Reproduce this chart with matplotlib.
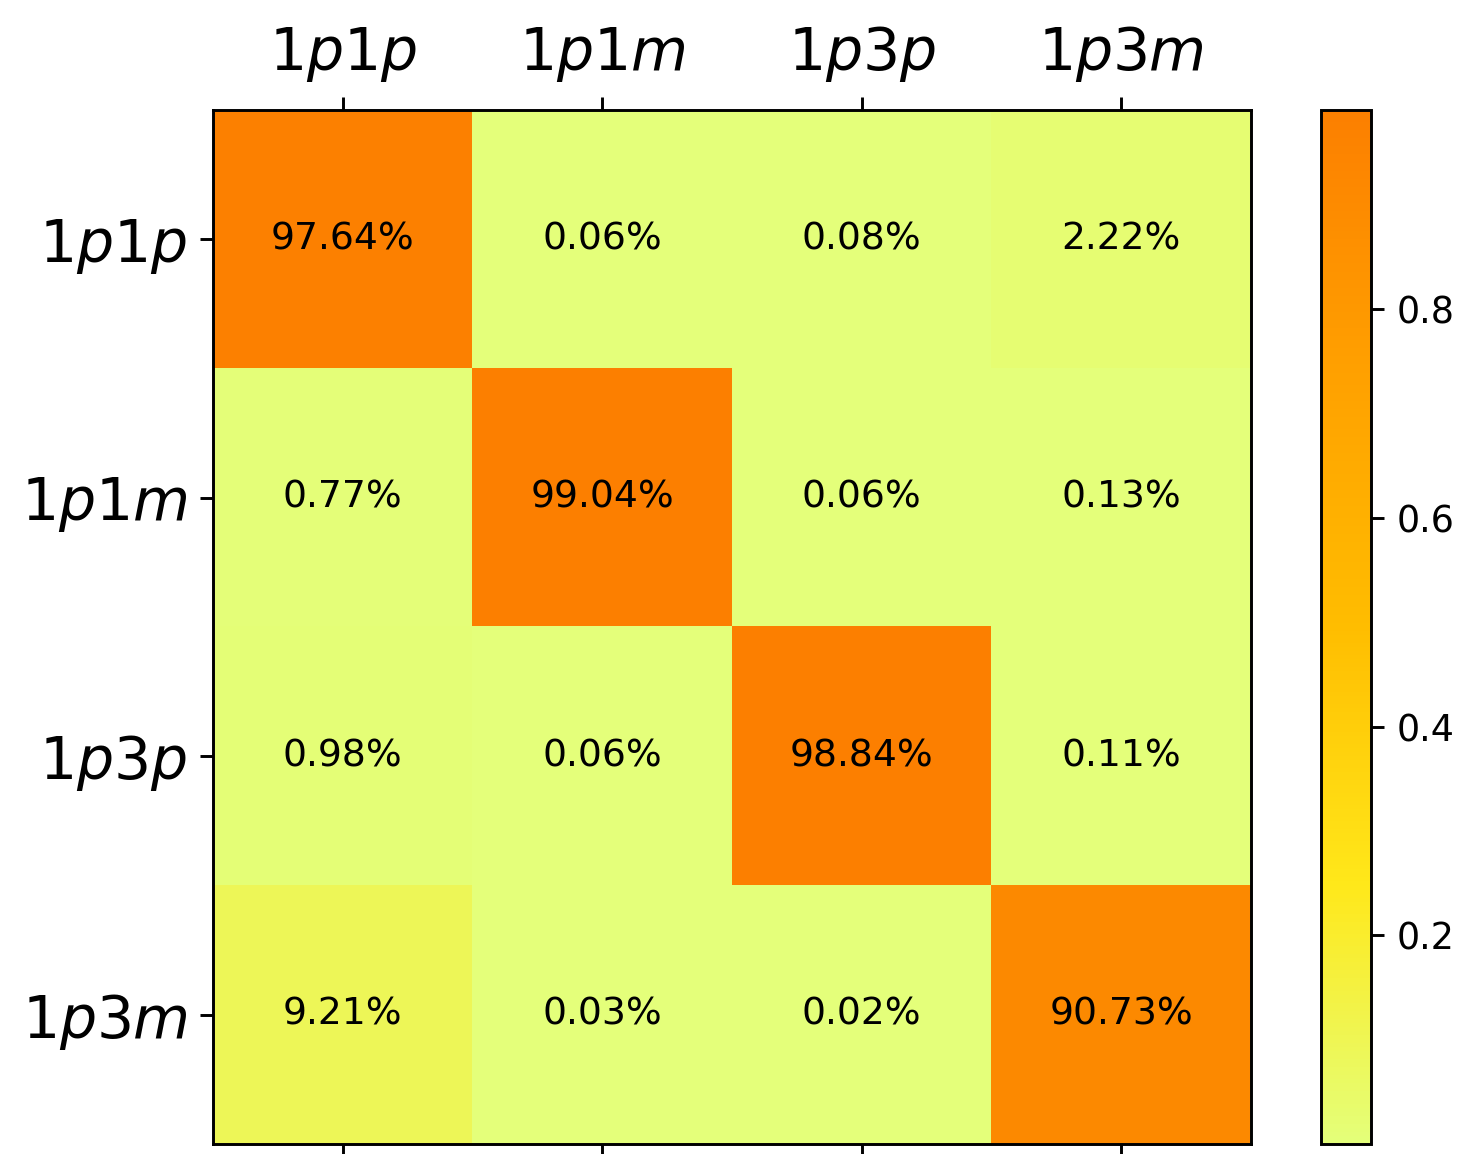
import matplotlib
matplotlib.use("Agg")
import matplotlib.pyplot as plt
import numpy as np

classes = ["1p1p", "1p1m", "1p3p", "1p3m"]

# rows: true class, columns: predicted class (fractions)
row_1p1p = [0.9764, 0.0006, 0.0008, 0.0222]
row_1p1m = [0.0077, 0.9904, 0.0006, 0.0013]
row_1p3p = [0.0098, 0.0006, 0.9884, 0.0011]
row_1p3m = [0.0921, 0.0003, 0.0002, 0.9073]

cm = np.array([row_1p1p, row_1p1m, row_1p3p, row_1p3m])

dpi = 263
W, H = 1466, 1154
fig = plt.figure(figsize=(W / dpi, H / dpi), dpi=dpi)

ax = fig.add_axes([213 / W, 1 - 1144 / H, (1251 - 213) / W, (1144 - 110) / H])
cax = fig.add_axes([1321 / W, 1 - 1144 / H, (1371 - 1321) / W, (1144 - 110) / H])

im = ax.imshow(cm, cmap="Wistia", aspect="auto")
fig.colorbar(im, cax=cax, ticks=[0.2, 0.4, 0.6, 0.8])

labels = [f"${c[0]}{c[1]}{c[2]}{c[3]}$" for c in classes]
ax.set_xticks(range(len(classes)))
ax.set_yticks(range(len(classes)))
ax.set_xticklabels(labels, fontsize=16)
ax.set_yticklabels(labels, fontsize=16)
ax.tick_params(axis="x", top=True, bottom=True, labeltop=True, labelbottom=False)

for i in range(cm.shape[0]):
    for j in range(cm.shape[1]):
        ax.text(j, i, f"{cm[i, j] * 100:.2f}%", ha="center", va="center",
                color="black", fontsize=10.3)

fig.savefig("out.png", dpi=dpi)
